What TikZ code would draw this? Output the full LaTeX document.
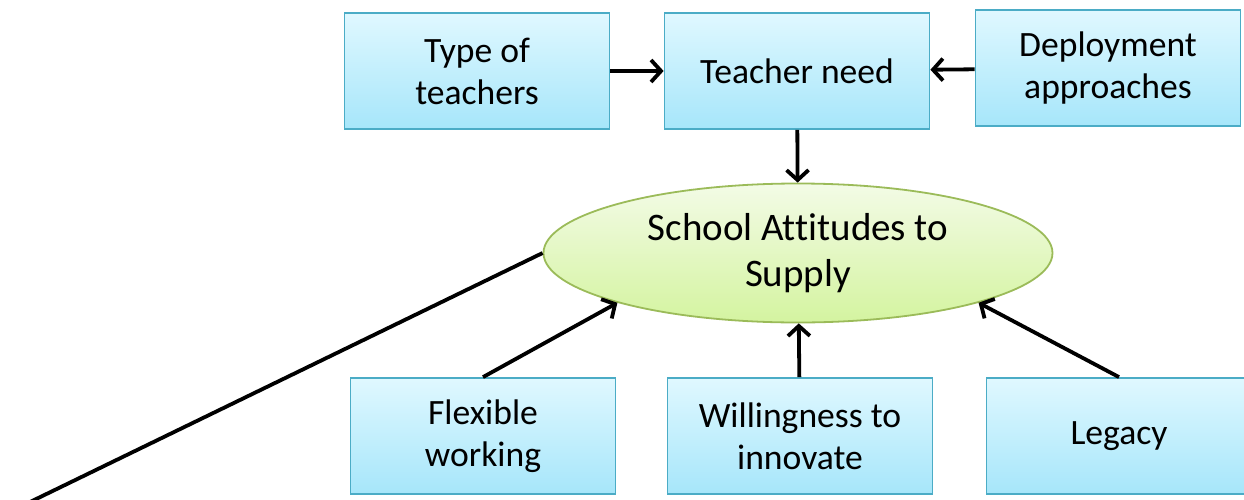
\documentclass[tikz,border=0pt]{standalone}
\usepackage{fontspec}
\setmainfont{Carlito}[Ligatures=CommonOff]
\usepackage{xcolor}
\usepackage{tikz}
\usetikzlibrary{shapes,arrows.meta,positioning}

\definecolor{boxtop}{RGB}{224,248,255}
\definecolor{boxbot}{RGB}{166,230,250}
\definecolor{boxedge}{RGB}{75,172,198}
\definecolor{elltop}{RGB}{243,251,230}
\definecolor{ellbot}{RGB}{212,244,160}
\definecolor{elledge}{RGB}{155,187,89}

\begin{document}
\begin{tikzpicture}[
    x=0.5pt, y=-0.5pt,
    factor/.style={rectangle, draw=boxedge, line width=0.9pt, top color=boxtop, bottom color=boxbot, minimum width=132.5pt, minimum height=58pt, align=center, inner sep=0pt, font=\fontsize{17.8}{21}\selectfont},
    attitude/.style={ellipse, draw=elledge, line width=0.9pt, top color=elltop, bottom color=ellbot, minimum width=254.5pt, minimum height=69.5pt, align=center, inner sep=0pt, font=\fontsize{19.5}{23}\selectfont},
    link/.style={line width=1.9pt, -{Straight Barb[length=5pt, width=11pt]}},
]
\clip (0,0) rectangle (1244,499);

% Central attitude
\node[attitude] (attitudes) at (798,253) {School Attitudes to\\Supply};

% Top row
\node[factor] (type) at (477,71) {Type of\\teachers};
\node[factor] (need) at (797,71) {Teacher need};
\node[factor] (deploy) at (1108,68) {Deployment\\approaches};

% Bottom row
\node[factor] (flexible) at (483,436) {Flexible\\working};
\node[factor] (innovate) at (800,436) {Willingness to\\innovate};
\node[factor] (legacy) at (1119,436) {Legacy};

% Free end of the long line
\coordinate (away) at (30,502);

% Connections
\draw[link] (type) -- (need);
\draw[link] (deploy) -- (need);
\draw[link] (need) -- (attitudes);
\draw[link] (flexible.north) -- (attitudes.south west);
\draw[link] (innovate) -- (attitudes);
\draw[link] (legacy.north) -- (attitudes.south east);
\draw[line width=1.9pt] (attitudes.west) -- (away);

\end{tikzpicture}
\end{document}
